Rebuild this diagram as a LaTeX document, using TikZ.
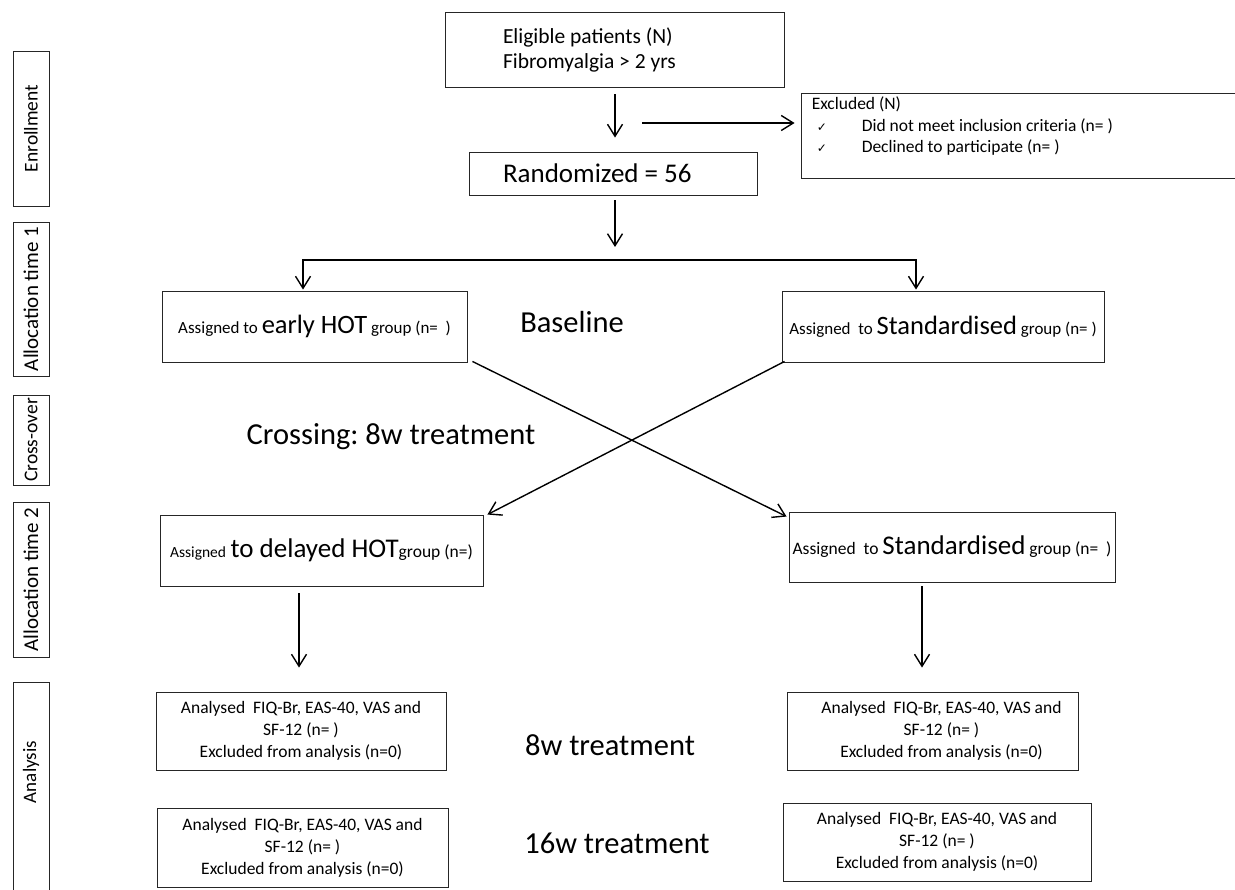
\documentclass[tikz,border=0pt]{standalone}
\usepackage{fontspec}
\setmainfont{Carlito}
\newfontfamily\symfont{DejaVu Sans}
\usetikzlibrary{arrows.meta,calc}
\newcommand\txs{\fontsize{17}{19}\selectfont}
\newcommand\txl{\fontsize{26.5}{29}\selectfont}
\frenchspacing
\begin{document}
\begin{tikzpicture}[x=1pt,y=-1pt,
  bx/.style={draw=black!85, line width=0.9pt, inner sep=0pt, align=center},
  side/.style={bx, rotate=90, minimum height=36pt, font=\fontsize{19.5}{21}\selectfont},
  arr/.style={line width=1.4pt, -{Straight Barb[length=12pt,width=15pt]}},
  big/.style={inner sep=0pt, font=\fontsize{30.5}{33}\selectfont},
  anbox/.style={bx, font=\fontsize{17.5}{22}\selectfont},
]
\useasboundingbox (0,0) rectangle (1235,890);

% side labels
\node[side, minimum width=155pt] (s1) at (31,128.5) {Enrollment};
\node[side, minimum width=154pt, font=\fontsize{21}{23}\selectfont] (s2) at (31,299) {Allocation time 1};
\node[side, minimum width=90pt] (s3) at (31,440) {Cross-over};
\node[side, minimum width=155pt, font=\fontsize{21}{23}\selectfont] (s4) at (31,579.5) {Allocation time 2};
\draw[draw=black!85, line width=0.9pt] (13,900) -- (13,682) -- (49,682) -- (49,900);
\node[rotate=90, inner sep=0pt, font=\fontsize{19}{21}\selectfont] (s5) at (31,772) {Analysis};

% enrollment
\node[bx, minimum height=75pt, text width=223pt, inner xsep=58pt, align=flush left,
      font=\fontsize{21.5}{25}\selectfont] (elig) at (614.5,49.5)
      {Eligible patients (N)\\Fibromyalgia > 2 yrs};
\node[bx, minimum height=43pt, text width=220pt, inner xsep=34pt, align=flush left,
      font=\fontsize{27}{29}\selectfont] (rand) at (613,173.5) {Randomized = 56};
\node[bx, minimum width=439pt, minimum height=85pt] (excl) at (1020.5,135.5) {};
\node[anchor=north west, inner sep=0pt, align=flush left, font=\fontsize{17.5}{21.5}\selectfont]
      (excltxt) at ($(excl.north west)+(11,4)$)
      {Excluded (N)\\
       \hspace*{5pt}\makebox[45pt][l]{\symfont\fontsize{12}{12}\selectfont ✓}Did not meet inclusion criteria (n= )\\
       \hspace*{5pt}\makebox[45pt][l]{\symfont\fontsize{12}{12}\selectfont ✓}Declined to participate (n= )};

% allocation 1
\node[bx, minimum width=305pt, minimum height=71pt] (early) at (314.5,326.5)
      {\txs Assigned to {\txl early HOT} group (n=\ \ )};
\node[bx, minimum width=322pt, minimum height=71pt] (stdA) at (943,326.5)
      {\txs Assigned\ \ to {\txl Standardised} group (n= )};
\node[big] (basel) at (572,322) {Baseline};
\node[big] (cross) at (391,437) {Crossing: 8w treatment};

% allocation 2
\node[bx, minimum width=323pt, minimum height=71pt] (delayed) at (321.5,550.5)
      {{\fontsize{15.5}{17}\selectfont Assigned}\ \ {\fontsize{27}{29}\selectfont to delayed HOT}{\fontsize{17.5}{19}\selectfont group (n=)}};
\node[bx, minimum width=326pt, minimum height=70pt] (stdB) at (952,547)
      {\fontsize{17.5}{19}\selectfont Assigned\ \ to {\fontsize{27}{29}\selectfont Standardised} group (n=\ \ )};

% analysis
\node[anbox, minimum width=290pt, minimum height=78pt] (a1L) at (301,731)
      {Analysed\ \ FIQ-Br, EAS-40, VAS and\\SF-12 (n= )\\Excluded from analysis (n=0)};
\node[anbox, minimum width=291pt, minimum height=78pt] (a1R) at (932.5,731)
      {\hspace*{18pt}Analysed\ \ FIQ-Br, EAS-40, VAS and\\\hspace*{18pt}SF-12 (n= )\\\hspace*{18pt}Excluded from analysis (n=0)};
\node[anbox, minimum width=291pt, minimum height=79pt] (a2L) at (302.5,847.5)
      {Analysed\ \ FIQ-Br, EAS-40, VAS and\\SF-12 (n= )\\Excluded from analysis (n=0)};
\node[anbox, minimum width=308pt, minimum height=78pt] (a2R) at (937,842)
      {Analysed\ \ FIQ-Br, EAS-40, VAS and\\SF-12 (n= )\\Excluded from analysis (n=0)};
\node[big] (t8) at (610,745) {8w treatment};
\node[big] (t16) at (617,843) {16w treatment};

% connectors
\draw[arr] ($(elig.south)+(0.5,7)$) -- ($(rand.north)+(2,-14)$);
\coordinate (exsrc) at (642,123);
\draw[arr] (exsrc) -- ($(excl.west |- exsrc)+(-6,0)$);
\coordinate (split) at (615,260);
\draw[arr] ($(rand.south)+(2,5)$) -- ($(split)+(0,-13)$);
\draw[arr] (split) -| ($(early.north)+(-11.5,-1)$);
\draw[arr] (split) -| ($(stdA.north)+(-27,-1)$);
\draw[arr] ($(early.south east)+(5,-1)$) -- ($(stdB.north west)+(-2,5)$);
\draw[arr] ($(stdA.south west)+(3,-1)$) -- ($(delayed.north east)+(4,0)$);
\draw[arr] ($(delayed.south)+(-22.5,7)$) -- ($(a1L.north)+(-2,-24)$);
\draw[arr] ($(stdB.south)+(-30,4)$) -- ($(a1R.north)+(-10.5,-24)$);
\end{tikzpicture}
\end{document}
